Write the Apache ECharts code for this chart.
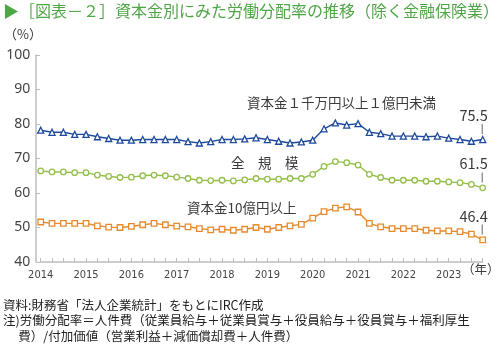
<!DOCTYPE html>
<html>
<head>
<meta charset="utf-8">
<script src="https://cdn.jsdelivr.net/npm/echarts@6/dist/echarts.min.js"></script>
<style>
  html, body { margin: 0; padding: 0; background: #fff; }
  #chart { width: 500px; height: 351px; }
</style>
</head>
<body>
<div id="chart"></div>
<script>
// quarterly data, 2014Q1 - 2023Q4
const years = ['2014', '2015', '2016', '2017', '2018', '2019', '2020', '2021', '2022', '2023'];
const quarters = ['Q1', 'Q2', 'Q3', 'Q4'];

const smallMid = [78.2, 77.6, 77.6, 77.0, 77.0, 76.3, 75.8, 75.3, 75.3, 75.5, 75.5, 75.5, 75.5, 74.9, 74.5, 74.9, 75.5, 75.5, 75.7,
    76.0, 75.5, 75.0, 74.5, 74.8, 75.3, 78.6, 80.3, 79.7, 80.1, 77.6, 77.2, 76.5, 76.5, 76.5, 76.3, 76.5, 75.9, 75.5, 75.0, 75.5];
const allSizes = [66.4, 66.1, 66.1, 65.9, 65.9, 65.2, 64.8, 64.5, 64.6, 65.0, 65.2, 65.0, 64.6, 64.2, 63.7, 63.6, 63.7, 63.5, 63.8,
    64.2, 64.0, 64.0, 64.2, 64.2, 65.4, 67.7, 69.1, 68.8, 68.1, 65.4, 64.5, 63.7, 63.7, 63.7, 63.4, 63.4, 63.2, 63.0, 62.5, 61.5];
const large = [51.6, 51.2, 51.2, 51.2, 51.2, 50.5, 50.1, 50.0, 50.3, 50.8, 51.2, 50.8, 50.4, 50.2, 49.7, 49.3, 49.5, 49.2, 49.5,
    50.0, 49.5, 50.0, 50.5, 50.9, 52.7, 54.6, 55.6, 56.0, 54.5, 51.2, 50.2, 49.7, 49.7, 49.7, 49.2, 49.0, 49.0, 48.8, 48.1, 46.4];

const categories = [];
years.forEach(y => quarters.forEach(q => categories.push(y + q)));

const font = '"Noto Sans CJK JP", "Noto Sans", sans-serif';
const textColor = '#3a3a3a';

// last point gets the value with a short leader line
function withEndLabel(values) {
    return values.map((v, i) => {
        if (i !== values.length - 1) return v;
        return {
            value: v,
            label: {
                show: true,
                position: 'top',
                align: 'right',
                distance: 2,
                offset: [5, 0],
                formatter: '{v|' + v.toFixed(1) + '}\n{l|}{s|}',
                rich: {
                    v: { fontSize: 14.5, color: textColor, fontFamily: font, lineHeight: 17, align: 'right' },
                    l: { width: 1, height: 10, backgroundColor: '#666', align: 'right' },
                    s: { width: 5, height: 10, align: 'right' }
                }
            }
        };
    });
}

const chart = echarts.init(document.getElementById('chart'));

const option = {
    animation: false,
    textStyle: { fontFamily: font },
    grid: { left: 40.7, right: 17.3, top: 55, bottom: 89 },
    xAxis: {
        type: 'category',
        boundaryGap: false,
        data: categories,
        axisLine: { lineStyle: { color: '#bdbdbd', width: 1.5 } },
        axisTick: { show: true, inside: true, length: 4, interval: 0, lineStyle: { color: '#bdbdbd' } },
        axisLabel: {
            interval: 3,
            margin: 8,
            color: '#444',
            fontSize: 11,
            fontFamily: '"Liberation Sans Narrow", "DejaVu Sans Condensed", sans-serif',
            formatter: (val) => val.slice(0, 4)
        },
        splitLine: { show: false }
    },
    yAxis: {
        type: 'value',
        min: 40,
        max: 100,
        interval: 10,
        offset: 4.5,
        axisLine: { show: true, lineStyle: { color: '#bdbdbd', width: 1.5 } },
        axisTick: { show: true, inside: true, length: 4, lineStyle: { color: '#bdbdbd' } },
        axisLabel: { color: '#444', fontSize: 14, margin: 6, fontFamily: '"Noto Sans", sans-serif' },
        splitLine: { show: false }
    },
    series: [
        {
            name: '資本金１千万円以上１億円未満',
            type: 'line',
            data: withEndLabel(smallMid),
            symbol: 'triangle',
            symbolSize: 6,
            lineStyle: { color: '#1e4a9c', width: 1.4 },
            itemStyle: { color: '#fff', borderColor: '#1e4a9c', borderWidth: 1.3 }
        },
        {
            name: '全規模',
            type: 'line',
            data: withEndLabel(allSizes),
            symbol: 'circle',
            symbolSize: 5.5,
            lineStyle: { color: '#95bf4b', width: 1.4 },
            itemStyle: { color: '#fff', borderColor: '#95bf4b', borderWidth: 1.3 }
        },
        {
            name: '資本金10億円以上',
            type: 'line',
            data: withEndLabel(large),
            symbol: 'rect',
            symbolSize: 5.5,
            lineStyle: { color: '#e88a2c', width: 1.4 },
            itemStyle: { color: '#fff', borderColor: '#e88a2c', borderWidth: 1.3 }
        }
    ],
    graphic: [
        {
            type: 'text', left: 3, top: 3,
            style: { text: '▶［図表－２］資本金別にみた労働分配率の推移（除く金融保険業）', fill: '#4fa646', font: '16px ' + font }
        },
        {
            type: 'text', left: 4, top: 28,
            style: { text: '（%）', fill: textColor, font: '13px ' + font }
        },
        {
            type: 'text', left: 462, top: 263,
            style: { text: '（年）', fill: textColor, font: '12.5px ' + font }
        },
        {
            type: 'text', left: 247, top: 96,
            style: { text: '資本金１千万円以上１億円未満', fill: textColor, font: '13.5px ' + font }
        },
        {
            type: 'text', left: 231, top: 156,
            style: { text: '全　規　模', fill: textColor, font: '13.5px ' + font }
        },
        {
            type: 'text', left: 187, top: 201,
            style: { text: '資本金10億円以上', fill: textColor, font: '13.5px ' + font }
        },
        {
            type: 'text', left: 3, top: 297,
            style: {
                text: '資料:財務省「法人企業統計」をもとにIRC作成\n注)労働分配率＝人件費（従業員給与＋従業員賞与＋役員給与＋役員賞与＋福利厚生\n　 費）/付加価値（営業利益＋減価償却費＋人件費）',
                fill: '#222', font: '12.5px ' + font, lineHeight: 15.5
            }
        }
    ]
};

option && chart.setOption(option);
</script>
</body>
</html>
